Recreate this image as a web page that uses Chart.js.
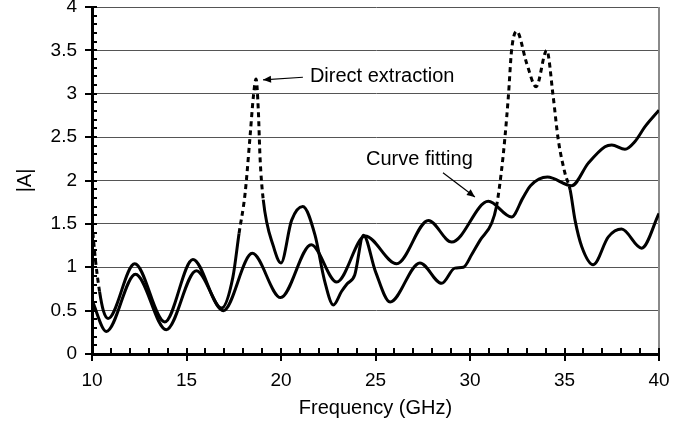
<!DOCTYPE html>
<html><head><meta charset="utf-8">
<script src="https://cdn.jsdelivr.net/npm/chart.js@4.4.1/dist/chart.umd.min.js"></script>
<style>html,body{margin:0;padding:0;background:#fff;overflow:hidden}</style>
</head><body>
<canvas id="c" width="690" height="427"></canvas>
<script>
// ---- data ----
const directFreq = [10,10.2,10.4,10.6,10.85,12.26,13.85,15.34,16.86,17.45,17.78,18.1,18.36,18.54,18.68,18.8,18.89,19.06,19.6,20.0,20.56,21.15,21.8,22.3,22.77,23.2,23.5,23.9,24.36,25.0,25.77,27.35,28.5,29.2,29.65,30.1,30.53,31.15,31.4,31.67,31.85,32.03,32.2,32.47,33.0,33.5,34.06,34.4,34.67,35.03,35.3,35.56,35.91,36.52,37.32,38.02,39.08,40];
const directAmp  = [1.50,1.05,0.72,0.50,0.41,1.04,0.37,1.09,0.53,0.88,1.39,1.85,2.50,2.97,3.17,2.81,2.27,1.78,1.24,1.05,1.54,1.70,1.37,0.85,0.565,0.72,0.81,0.91,1.37,0.95,0.60,1.05,0.815,0.99,1.00,1.15,1.31,1.51,1.70,2.12,2.50,2.97,3.50,3.72,3.35,3.08,3.50,2.97,2.47,2.08,1.89,1.54,1.24,1.03,1.35,1.44,1.22,1.62];
const fitFreq = [10,10.76,12.3,13.93,15.52,16.95,18.48,19.98,21.6,22.95,24.45,26.12,27.8,29.03,30.97,32.2,32.8,33.2,34.1,35.38,36.26,37.14,37.5,38.2,38.73,39.26,40];
const fitAmp  = [0.62,0.26,0.92,0.28,0.96,0.50,1.16,0.65,1.26,0.83,1.36,1.04,1.54,1.29,1.76,1.58,1.80,1.94,2.04,1.94,2.20,2.39,2.41,2.36,2.45,2.62,2.81];
const dashedRanges = [[10,10.45],[17.7,19.1],[31.35,35.35]];
const xTitle = 'Frequency (GHz)';
const yTitle = '|A|';
const noteDirect = 'Direct extraction';
const noteFit = 'Curve fitting';

const FONT = '"Liberation Sans", Arial, sans-serif';
const pts = (xs, ys) => xs.map((x, i) => ({x, y: ys[i]}));
const inDash = (a, b) => { const m = (a + b) / 2; return dashedRanges.some(r => m >= r[0] && m <= r[1]); };

function arrow(ctx, x1, y1, x2, y2) {
  ctx.beginPath(); ctx.moveTo(x1, y1); ctx.lineTo(x2, y2); ctx.stroke();
  const ang = Math.atan2(y2 - y1, x2 - x1), L = 8, W = 3.5;
  ctx.beginPath();
  ctx.moveTo(x2, y2);
  ctx.lineTo(x2 - L * Math.cos(ang) + W * Math.sin(ang), y2 - L * Math.sin(ang) - W * Math.cos(ang));
  ctx.lineTo(x2 - L * Math.cos(ang) - W * Math.sin(ang), y2 - L * Math.sin(ang) + W * Math.cos(ang));
  ctx.closePath(); ctx.fill();
}

const decor = {
  id: 'decor',
  beforeDatasetsDraw(chart) {
    const {ctx, chartArea: a} = chart;
    ctx.save();
    ctx.strokeStyle = '#8a8a8a'; ctx.lineWidth = 2;
    ctx.beginPath(); ctx.moveTo(a.right, a.top); ctx.lineTo(a.right, a.bottom); ctx.stroke();
    ctx.restore();
  },
  afterDatasetsDraw(chart) {
    const {ctx, chartArea: a, scales: {x, y}} = chart;
    ctx.save();
    ctx.strokeStyle = '#000'; ctx.lineWidth = 2;
    for (let i = 0; i <= 40; i++) {
      const py = Math.round(y.getPixelForValue(i / 10));
      ctx.beginPath(); ctx.moveTo(i % 5 === 0 ? a.left - 7 : a.left, py); ctx.lineTo(a.left + 5, py); ctx.stroke();
    }
    for (let f = 10; f <= 40; f++) {
      const px = Math.round(x.getPixelForValue(f));
      ctx.beginPath(); ctx.moveTo(px, a.bottom - 6); ctx.lineTo(px, f % 5 === 0 ? a.bottom + 7 : a.bottom); ctx.stroke();
    }
    // annotations
    ctx.fillStyle = '#000'; ctx.strokeStyle = '#000'; ctx.lineWidth = 1.2;
    ctx.font = '20px ' + FONT; ctx.textBaseline = 'middle'; ctx.textAlign = 'left';
    ctx.fillText(noteDirect, x.getPixelForValue(21.53), y.getPixelForValue(3.2));
    arrow(ctx, x.getPixelForValue(21.16), y.getPixelForValue(3.19), x.getPixelForValue(19.05), y.getPixelForValue(3.16));
    ctx.fillText(noteFit, x.getPixelForValue(24.5), y.getPixelForValue(2.24));
    arrow(ctx, x.getPixelForValue(28.57), y.getPixelForValue(2.09), x.getPixelForValue(30.26), y.getPixelForValue(1.81));
    ctx.restore();
  }
};

new Chart(document.getElementById('c'), {
  type: 'line',
  data: {
    datasets: [
      {label: noteDirect, data: pts(directFreq, directAmp), borderColor: '#000', borderWidth: 3,
       pointRadius: 0, cubicInterpolationMode: 'monotone', fill: false,
       segment: {borderDash: c => inDash(c.p0.parsed.x, c.p1.parsed.x) ? [5, 4] : undefined}},
      {label: noteFit, data: pts(fitFreq, fitAmp), borderColor: '#000', borderWidth: 3,
       pointRadius: 0, cubicInterpolationMode: 'monotone', fill: false}
    ]
  },
  options: {
    responsive: false, animation: false, devicePixelRatio: 1,
    layout: {padding: {top: 7, right: 31, bottom: 0, left: 0}},
    plugins: {legend: {display: false}, tooltip: {enabled: false}},
    scales: {
      x: {
        type: 'linear', min: 10, max: 40,
        ticks: {stepSize: 5, padding: 15, color: '#000', font: {family: FONT, size: 19}, maxRotation: 0,
                callback: v => String(Number(v))},
        grid: {drawOnChartArea: false, drawTicks: false},
        border: {display: true, color: '#000', width: 3},
        title: {display: true, text: xTitle, color: '#000', font: {family: FONT, size: 20, lineHeight: 1.2}, padding: {top: 0, bottom: 6.6}},
        afterFit: s => { s.height = 73; s.paddingLeft = 0; s.paddingRight = 0; }
      },
      y: {
        type: 'linear', min: 0, max: 4,
        ticks: {stepSize: 0.5, padding: 15, color: '#000', font: {family: FONT, size: 19},
                callback: v => String(Math.round(v * 10) / 10)},
        grid: {drawTicks: false, lineWidth: 1, color: c => (c.tick && c.tick.value === 0) ? 'rgba(0,0,0,0)' : '#555'},
        border: {display: true, color: '#000', width: 3},
        title: {display: true, text: yTitle, color: '#000', font: {family: FONT, size: 20, lineHeight: 1.2}, padding: {top: 13.6, bottom: 0}},
        afterFit: s => { s.width = 92; s.paddingTop = 0; s.paddingBottom = 0; }
      }
    }
  },
  plugins: [decor]
});
</script>
</body></html>
